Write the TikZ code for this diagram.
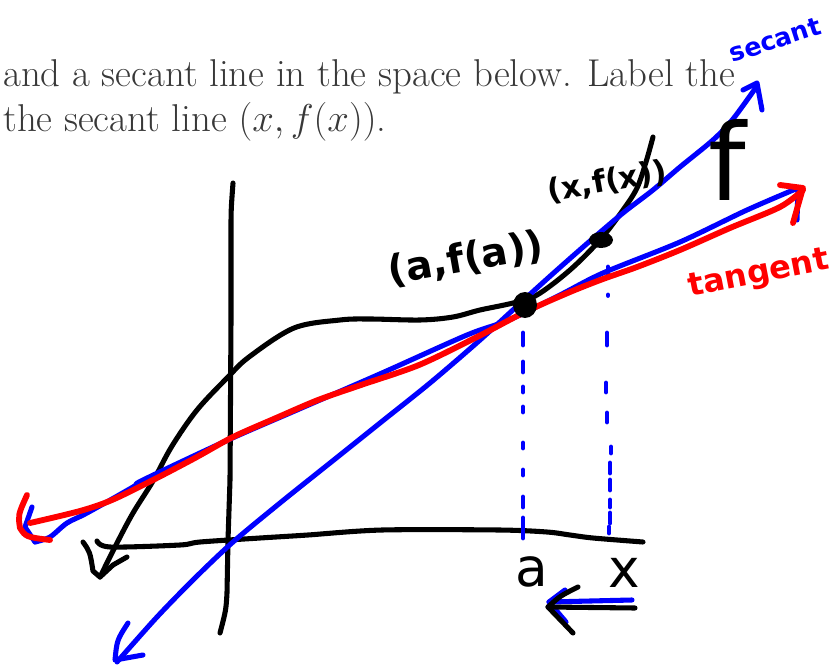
\RequirePackage{fix-cm}
\documentclass[tikz,border=0pt]{standalone}
\usepackage{fontspec}
\newfontfamily\handfont{DejaVu Sans}
\begin{document}
\begin{tikzpicture}[x=0.75pt,y=-0.75pt,
  ink/.style={line width=3.8pt,line cap=round,line join=round},
  blk/.style={ink,black},
  blu/.style={ink,blue},
  rd/.style={ink,red,line width=4.4pt},
  dashstroke/.style={ink,blue,line width=3.6pt},
  printed/.style={anchor=base west,inner sep=0pt,text=black!78,font=\fontsize{29.1}{35}\selectfont},
  hand/.style={inner sep=0pt,font=\handfont\bfseries\fontsize{#1}{#1}\selectfont},
  handlight/.style={inner sep=0pt,font=\handfont\fontsize{#1}{#1}\selectfont},
]
\useasboundingbox (0,0) rectangle (832,667);

% printed text
\node[printed] (line1) at (3,87) {and a secant line in the space below. Label the};
\node[printed] (line2) at (3,132) {the secant line $(x,f(x))$.};

% key points
\coordinate (A) at (525,305);
\coordinate (X) at (601,240);

% axes
\draw[blk] (233,183) .. controls (231,210) .. (231,233) -- (231,320) -- (230,480) -- (228,540) -- (227,593) .. controls (226,610) .. (220,633);
\draw[blk] plot[smooth,tension=0.5] coordinates {(97,541) (110,547) (180,545) (200,542) (260,538) (276,537) (308,535) (382,530) (499,530) (547,532) (570,535) (593,538) (643,542)};

% curve f
\draw[blk] plot[smooth,tension=0.55] coordinates {(100,577) (117,543) (133,513) (153,481) (172,446) (197,410) (228,377) (249,357) (294,328) (340,320) (370,319) (420,320) (453,317) (480,310) (513,303) (537,295) (570,270) (600,240) (623,210) (637,188) (646,162) (653,137)};
\draw[blk] (83,542) .. controls (90,552) .. (93,571) -- (100,577) -- (113,565) -- (127,557);

% blue dotted verticals
\foreach \ya/\yb in {333/345,362/372,387/392,407/412,443/448,470/475,497/507,518/538}
  \draw[dashstroke] (523,\ya) -- (523,\yb);
\foreach \xx/\ya/\yb in {608/267/277,608/295/295.5,607/333/345,606/383/392,607/413/422,611/447/453,610/463/473,610/480/490,610/500/507,610/513/523,609/527/533}
  \draw[dashstroke] (\xx,\ya) -- (\xx,\yb);

% blue secant line
\draw[blu] plot[smooth,tension=0.5] coordinates {(117,662) (157,617) (195,578) (233,542) (280,503) (330,463) (380,423) (430,383) (480,340) (527,297) (557,270) (590,241) (623,213) (653,190) (680,167) (713,140) (733,119) (757,86)};
\draw[blu] (128,623) .. controls (117,640) .. (115,660) -- (143,655);
\draw[blu] (743,90) -- (757,83) -- (762,110);

% blue line under the tangent
\draw[blu] plot[smooth,tension=0.5] coordinates {(35,542) (50,537) (67,523) (87,513) (133,487) (143,480) (228,440) (297,410) (382,373) (467,335) (509,320) (560,295) (603,273) (680,242) (747,210) (798,188)};
\draw[blu] (32,507) -- (25,527) -- (35,542);
\draw[blu] (798,188) -- (797,220);

% red tangent line
\draw[rd] plot[smooth,tension=0.5] coordinates {(30,523) (80,511) (112,500) (153,480) (195,458) (233,437) (276,418) (318,400) (361,385) (419,365) (477,337) (525,312) (570,292) (603,279) (637,267) (680,250) (730,228) (780,207) (803,190)};
\draw[rd] (27,495) .. controls (18,515) .. (20,528) .. controls (26,537) .. (50,540);
\draw[rd] (780,185) -- (803,188) -- (793,223);

% points
\fill[black] (A) ellipse [x radius=9pt, y radius=9.75pt];
\fill[black] (X) ellipse [x radius=9pt, y radius=6pt];

% handwritten labels
\node[hand=29.5,rotate=10] (lblA) at (466,259) {(a,f(a))};
\node[hand=23,rotate=10] (lblX) at (607,182) {(x,f(x))};
\node[handlight=80] (lblF) at (727,160) {f};
\node[hand=19,text=blue,rotate=18] (lblSec) at (775,40) {secant};
\node[hand=24,text=red,rotate=11] (lblTan) at (759,275) {tangent};
\node[handlight=40] (lbla) at (532,572) {a};
\node[handlight=40] (lblx) at (624,573) {x};

% arrow below a and x
\coordinate (arrTipB) at (549,602);
\coordinate (arrTailB) at (632,600);
\draw[blu] (arrTailB) -- (arrTipB);
\draw[blu] (565,590) -- (arrTipB) -- (566,622);
\coordinate (arrTip) at (548,607);
\coordinate (arrTail) at (635,608);
\draw[blk] (arrTail) -- (arrTip);
\draw[blk] (578,587) .. controls (560,596) .. (arrTip) .. controls (560,620) .. (573,633);
\end{tikzpicture}
\end{document}
